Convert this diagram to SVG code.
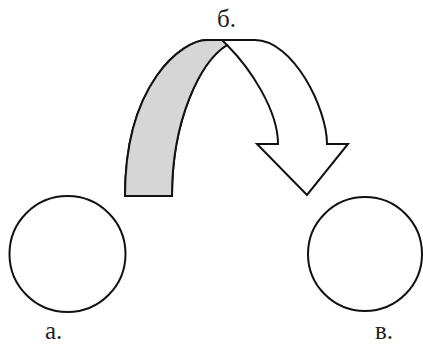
<svg xmlns="http://www.w3.org/2000/svg" width="423" height="344" viewBox="0 0 423 344">
<style>
.ln{fill:none;stroke:#111;stroke-width:2;stroke-linejoin:miter}
</style>
<rect width="423" height="344" fill="#fff"/>
<g id="connectors">
<path id="arrow" class="ln" style="fill:#fff" d="M125,196 C125,84 182,40 207,40 L255,40 C293,40 327,108 327,144 L348,144 L307,195 L257,144 L278,144 C278,110 250,68 227,45 C200,62 172,120 172,196 Z"/>
<path id="stripe" class="ln" style="fill:#d6d6d6" d="M125,196 C125,84 182,40 207,40 L222,40 L227,45 C200,62 172,120 172,196 Z"/>
</g>
<g id="node-a">
<circle cx="67.5" cy="254" r="58" class="ln"/>
<text x="45" y="339" font-family="Liberation Serif, Times New Roman, serif" font-size="25" fill="#222">а.</text>
</g>
<g id="node-b">
<text x="217" y="27" font-family="Liberation Serif, Times New Roman, serif" font-size="25" fill="#222">б.</text>
</g>
<g id="node-v">
<circle cx="365" cy="254" r="57" class="ln"/>
<text x="375" y="339" font-family="Liberation Serif, Times New Roman, serif" font-size="25" fill="#222">в.</text>
</g>
</svg>
